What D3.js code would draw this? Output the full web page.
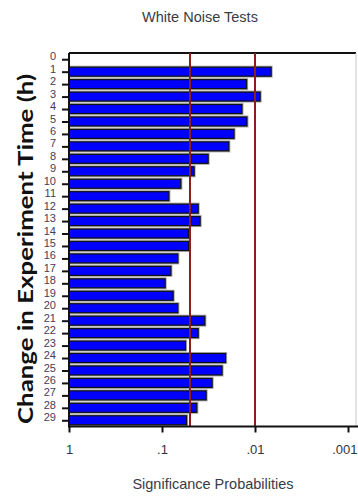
<!DOCTYPE html>
<html>
<head>
<meta charset="utf-8">
<script src="https://cdn.jsdelivr.net/npm/d3@7"></script>
<style>
  html, body { margin: 0; padding: 0; background: #fff; }
  svg { display: block; }
</style>
</head>
<body>
<svg id="chart" width="358" height="500"></svg>
<script>
// Hours since start of experiment (row 0 has no test)
const hours = d3.range(0, 30);
// White-noise test significance probability per hour (null = not tested)
const pValues = [null,
  0.0067, 0.0123, 0.0088, 0.0138, 0.0122, 0.0168, 0.0191, 0.0319, 0.0451, 0.0627,
  0.0843, 0.0408, 0.0389, 0.0518, 0.0518, 0.0675, 0.0802, 0.0924, 0.0758, 0.0675,
  0.0346, 0.0408, 0.0558, 0.0207, 0.0226, 0.0289, 0.0335, 0.0422, 0.0544];
// Reference significance levels
const thresholds = [0.05, 0.01];
// Log-axis ticks and their labels
const xTicks = [1, 0.1, 0.01, 0.001];
const xTickLabels = ["1", ".1", ".01", ".001"];

const svg = d3.select("#chart");

const x = d3.scaleLog().domain([1, 0.001]).range([69, 348]);
const y = d3.scaleLinear().domain([-0.5, 29.5]).range([53, 426.5]);
const plotRight = 356;
const barH = 9;

// Title
svg.append("text")
  .attr("x", 200).attr("y", 22)
  .attr("text-anchor", "middle")
  .attr("font-family", "Liberation Sans, Arial, sans-serif")
  .attr("font-size", 14.5)
  .attr("fill", "#3a3a44")
  .text("White Noise Tests");

// Plot frame: top rule and faint right edge
svg.append("line")
  .attr("x1", x(1)).attr("x2", plotRight)
  .attr("y1", y(-0.5)).attr("y2", y(-0.5))
  .attr("stroke", "#111").attr("stroke-width", 2);
svg.append("line")
  .attr("x1", plotRight).attr("x2", plotRight)
  .attr("y1", y(-0.5)).attr("y2", y(29.5))
  .attr("stroke", "#c8c8c8").attr("stroke-width", 1);

const rows = hours.map((h, i) => ({ h, p: pValues[i] })).filter(d => d.p != null);

// Bars with a grey halo behind the outlined blue fill
const bars = svg.append("g");
bars.selectAll("rect.halo")
  .data(rows)
  .join("rect")
  .attr("class", "halo")
  .attr("x", x(1))
  .attr("y", d => y(d.h) - barH / 2 - 1.5)
  .attr("width", d => x(d.p) - x(1) + 1.5)
  .attr("height", barH + 3)
  .attr("fill", "#a8a8a8");
bars.selectAll("rect.bar")
  .data(rows)
  .join("rect")
  .attr("class", "bar")
  .attr("x", x(1))
  .attr("y", d => y(d.h) - barH / 2)
  .attr("width", d => x(d.p) - x(1))
  .attr("height", barH)
  .attr("fill", "#0000ff")
  .attr("stroke", "#111")
  .attr("stroke-width", 1.2);

// Significance reference lines
svg.append("g").selectAll("line")
  .data(thresholds)
  .join("line")
  .attr("x1", d => x(d)).attr("x2", d => x(d))
  .attr("y1", y(-0.5)).attr("y2", y(29.5))
  .attr("stroke", "#8e1c1c")
  .attr("stroke-width", 2);

// X axis
const xAxis = svg.append("g")
  .attr("transform", `translate(0,${y(29.5)})`)
  .call(d3.axisBottom(x)
    .tickValues(xTicks)
    .tickFormat((d, i) => xTickLabels[i])
    .tickSize(6)
    .tickPadding(12));
xAxis.select(".domain").remove();
xAxis.append("line")
  .attr("x1", x(1)).attr("x2", 358)
  .attr("stroke", "#111").attr("stroke-width", 2);
xAxis.selectAll(".tick line").attr("stroke", "#111").attr("stroke-width", 2);
xAxis.selectAll(".tick text")
  .attr("font-family", "Liberation Sans, Arial, sans-serif")
  .attr("font-size", 13)
  .attr("fill", "#2f3440");
// keep the last label inside the right edge
xAxis.selectAll(".tick text")
  .filter((d, i, n) => i === n.length - 1)
  .attr("text-anchor", "end")
  .attr("x", 357 - x(xTicks[xTicks.length - 1]));

// Y axis
const yAxis = svg.append("g")
  .attr("transform", `translate(${x(1)},0)`)
  .call(d3.axisLeft(y)
    .tickValues(hours)
    .tickFormat(d3.format("d"))
    .tickSize(7)
    .tickPadding(6));
yAxis.select(".domain").remove();
yAxis.append("line")
  .attr("y1", y(-0.5)).attr("y2", y(29.5) + 1)
  .attr("stroke", "#111").attr("stroke-width", 2);
yAxis.selectAll(".tick line").attr("stroke", "#111").attr("stroke-width", 2);
yAxis.selectAll(".tick text")
  .attr("font-family", "Liberation Sans, Arial, sans-serif")
  .attr("font-size", 11)
  .attr("fill", "#463c58")
  .attr("dy", "0.05em");

// Axis titles
svg.append("text")
  .attr("x", 213).attr("y", 489)
  .attr("text-anchor", "middle")
  .attr("font-family", "Liberation Sans, Arial, sans-serif")
  .attr("font-size", 14.5)
  .attr("fill", "#3a3a44")
  .text("Significance Probabilities");

svg.append("text")
  .attr("transform", "translate(33,249) rotate(-90)")
  .attr("text-anchor", "middle")
  .attr("font-family", "Lato, 'Open Sans', sans-serif")
  .attr("font-weight", "bold")
  .attr("font-size", 21)
  .attr("textLength", 350)
  .attr("lengthAdjust", "spacingAndGlyphs")
  .attr("fill", "#111")
  .text("Change in Experiment Time (h)");
</script>
</body>
</html>
